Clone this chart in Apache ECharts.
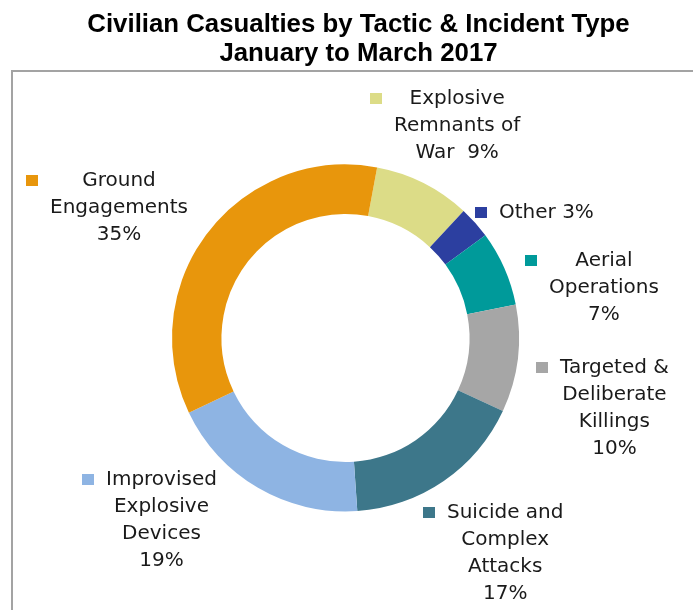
<!DOCTYPE html>
<html>
<head>
<meta charset="utf-8">
<script src="https://cdn.jsdelivr.net/npm/echarts@6/dist/echarts.min.js"></script>
<style>
  html, body { margin: 0; padding: 0; background: #ffffff; }
  #chart { width: 693px; height: 610px; }
</style>
</head>
<body>
<div id="chart"></div>
<script>
// Share of civilian casualties by tactic, Jan–Mar 2017 (clockwise from the top)
const categories = [
  'Explosive Remnants of War',
  'Other',
  'Aerial Operations',
  'Targeted & Deliberate Killings',
  'Suicide and Complex Attacks',
  'Improvised Explosive Devices',
  'Ground Engagements'
];
const shares = [9, 3, 7, 10, 17, 19, 35];

// Wrapped label text; {p} is replaced by the share
const labelTemplates = [
  'Explosive\nRemnants of\nWar  {p}',
  'Other {p}',
  'Aerial\nOperations\n{p}',
  'Targeted &\nDeliberate\nKillings\n{p}',
  'Suicide and\nComplex\nAttacks\n{p}',
  'Improvised\nExplosive\nDevices\n{p}',
  'Ground\nEngagements\n{p}'
];

const sliceColors = ['#DCDC87', '#2C3FA0', '#009A9A', '#A6A6A6', '#3D778A', '#8EB4E3', '#E8960C'];

// Top-left corner of each label block (key square + text)
const labelAnchors = [[370, 85], [475, 199], [525, 247], [536, 354], [423, 499], [82, 466], [26, 167]];

const labelFont = { fontFamily: 'DejaVu Sans', fontSize: 20, lineHeight: 27 };
const rich = {
  gap: Object.assign({ width: 12 }, labelFont),
  sp: Object.assign({ width: 24 }, labelFont),
  t: Object.assign({ color: '#1a1a1a', align: 'center' }, labelFont)
};
sliceColors.forEach(function (c, i) {
  rich['sq' + i] = { width: 12, height: 11, backgroundColor: c, lineHeight: 27 };
});

const chart = echarts.init(document.getElementById('chart'), null, { renderer: 'canvas' });

chart.setOption({
  animation: false,
  backgroundColor: '#ffffff',
  graphic: [
    {
      type: 'rect',
      z: -10,
      silent: true,
      shape: { x: 12, y: 71, width: 720, height: 600 },
      style: { fill: 'none', stroke: '#A3A3A3', lineWidth: 2 }
    },
    {
      type: 'text',
      x: 358.5,
      y: 10,
      silent: true,
      style: {
        text: 'Civilian Casualties by Tactic & Incident Type\nJanuary to March 2017',
        font: 'bold 25.8px "Liberation Sans", Arial, sans-serif',
        fill: '#000000',
        align: 'center',
        textAlign: 'center',
        verticalAlign: 'top',
        textVerticalAlign: 'top',
        lineHeight: 29.4
      }
    }
  ],
  series: [
    {
      type: 'pie',
      center: [345.5, 338],
      radius: [124, 173.5],
      startAngle: 79.5,
      clockwise: true,
      avoidLabelOverlap: false,
      silent: true,
      itemStyle: { borderWidth: 0 },
      emphasis: { disabled: true },
      labelLine: { show: false },
      label: {
        show: true,
        position: 'outside',
        fontFamily: 'DejaVu Sans',
        fontSize: 20,
        lineHeight: 27,
        color: '#1a1a1a',
        rich: rich,
        formatter: function (p) {
          const i = p.dataIndex;
          const lines = labelTemplates[i].replace('{p}', p.value + '%').split('\n');
          return lines.map(function (line, k) {
            return (k === 0 ? '{sq' + i + '|}{gap|}' : '{sp|}') + '{t|' + line + '}';
          }).join('\n');
        }
      },
      labelLayout: function (params) {
        const a = labelAnchors[params.dataIndex];
        return { x: a[0], y: a[1], align: 'left', verticalAlign: 'top' };
      },
      data: categories.map(function (name, i) {
        return { name: name, value: shares[i], itemStyle: { color: sliceColors[i] } };
      })
    }
  ]
});
</script>
</body>
</html>
